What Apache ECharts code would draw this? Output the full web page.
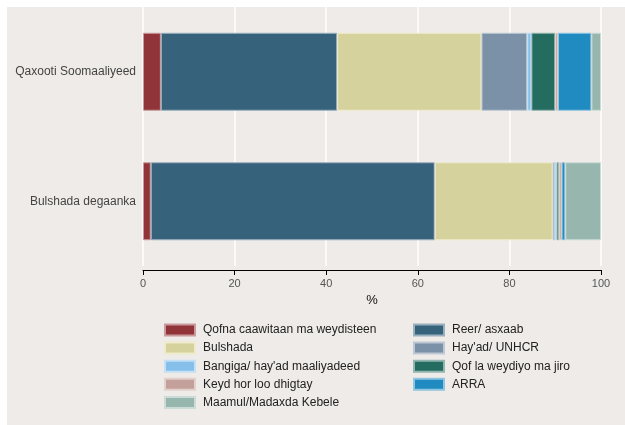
<!DOCTYPE html>
<html>
<head>
<meta charset="utf-8">
<script src="https://cdn.jsdelivr.net/npm/echarts@6/dist/echarts.min.js"></script>
<style>
html,body{margin:0;padding:0;background:#ffffff;width:625px;height:425px;overflow:hidden;}
#chart{position:absolute;left:7px;top:7px;width:618px;height:418px;background:#EEEBE8;}
</style>
</head>
<body>
<div id="chart"></div>
<script>
const categories = ['Qaxooti Soomaaliyeed', 'Bulshada degaanka'];
const seriesNames = [
  'Qofna caawitaan ma weydisteen',
  'Reer/ asxaab',
  'Bulshada',
  "Hay'ad/ UNHCR",
  "Bangiga/ hay'ad maaliyadeed",
  'Qof la weydiyo ma jiro',
  'Keyd hor loo dhigtay',
  'ARRA',
  'Maamul/Madaxda Kebele'
];
const qofna   = [3.9, 1.7];
const reer    = [38.5, 62.0];
const bulshada= [31.5, 25.75];
const hayad   = [10.0, 0.45];
const bangiga = [0.9, 0.4];
const qofla   = [5.2, 0.5];
const keyd    = [0.6, 0.6];
const arra    = [7.3, 0.8];
const maamul  = [2.1, 7.8];
const xTicks = [0, 20, 40, 60, 80, 100];

const values = [qofna, reer, bulshada, hayad, bangiga, qofla, keyd, arra, maamul];
const colors = ['#903439', '#37627C', '#D6D29E', '#7B91A8', '#86C0EA', '#246B60', '#C3A19A', '#1F8BC0', '#96B6AE'];
const borders = ['#C99A9D', '#9BB0BE', '#EEEBCB', '#BDC8D4', '#C3E0F5', '#92B5AF', '#E1D0CC', '#8FC5E0', '#CBDBD7'];

const series = seriesNames.map((n, i) => ({
  name: n,
  type: 'bar',
  stack: 'total',
  barWidth: 78,
  data: values[i],
  itemStyle: { color: colors[i], borderColor: borders[i], borderWidth: 1 },
  emphasis: { disabled: true },
  animation: false
}));

const leftNames = [seriesNames[0], seriesNames[2], seriesNames[4], seriesNames[6], seriesNames[8]];
const rightNames = [seriesNames[1], seriesNames[3], seriesNames[5], seriesNames[7]];
const legendCommon = {
  orient: 'vertical',
  icon: 'rect',
  itemWidth: 30,
  itemHeight: 11,
  itemGap: 5.1,
  selectedMode: false,
  textStyle: { fontFamily: 'Liberation Sans, Arial, sans-serif', fontSize: 12, color: '#222', lineHeight: 12, padding: [0, 0, 0, 3] },
  padding: 0
};

const chart = echarts.init(document.getElementById('chart'), null, { renderer: 'canvas' });
chart.setOption({
  backgroundColor: '#EEEBE8',
  animation: false,
  textStyle: { fontFamily: 'Liberation Sans, Arial, sans-serif' },
  legend: [
    Object.assign({}, legendCommon, { data: leftNames, left: 157, top: 316.5 }),
    Object.assign({}, legendCommon, { data: rightNames, left: 406, top: 316.5 })
  ],
  grid: { left: 136, right: 24, top: 0, bottom: 159 },
  xAxis: {
    type: 'value',
    min: 0, max: 100, interval: 20,
    offset: 4,
    name: '%',
    nameLocation: 'middle',
    nameGap: 23,
    nameTextStyle: { fontSize: 13, color: '#111' },
    axisLine: { show: true, lineStyle: { color: '#000', width: 1 } },
    axisTick: { show: true, length: 5, lineStyle: { color: '#000' } },
    axisLabel: { fontSize: 11, color: '#555', margin: 8, formatter: v => xTicks.includes(v) ? String(v) : '' },
    splitLine: { show: true, lineStyle: { color: '#FFFFFF', width: 1.5 } }
  },
  yAxis: {
    type: 'category',
    data: categories,
    inverse: true,
    axisLine: { show: false },
    axisTick: { show: false },
    axisLabel: { fontSize: 12, color: '#444', margin: 7 }
  },
  series: series
});
</script>
</body>
</html>
